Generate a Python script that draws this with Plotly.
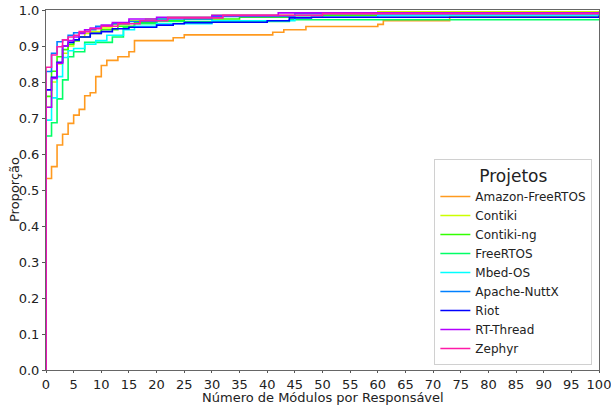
import plotly.graph_objects as go

names = ["Amazon-FreeRTOS", "Contiki", "Contiki-ng", "FreeRTOS", "Mbed-OS",
         "Apache-NuttX", "Riot", "RT-Thread", "Zephyr"]
colors = ["#ff9a1f", "#ccff00", "#33ff00", "#00ff66", "#00ffff",
          "#0080ff", "#0000ff", "#b300ff", "#ff1aa8"]

amazon_x = [0, 1, 2, 3, 4, 5, 6, 7, 8, 9, 10, 11, 13, 15, 16, 23, 25, 41, 43, 47, 60, 61, 73, 100]
amazon_y = [.532, .565, .625, .655, .685, .708, .724, .762, .770, .815, .846, .860, .870, .884, .915, .923, .931, .938, .945, .954, .960, .970, .982, .982]

contiki_x = [0, 1, 2, 3, 4, 5, 6, 7, 8, 10, 12, 15, 18, 22, 30, 45, 60, 100]
contiki_y = [.73, .80, .85, .88, .90, .915, .925, .935, .94, .95, .96, .97, .975, .98, .985, .99, .995, .995]

contiking_x = [0, 1, 2, 3, 4, 5, 6, 8, 10, 13, 16, 20, 25, 35, 50, 100]
contiking_y = [.76, .83, .87, .89, .905, .915, .925, .935, .945, .955, .965, .97, .975, .98, .985, .985]

freertos_x = [0, 1, 2, 3, 4, 5, 7, 12, 14, 16, 20, 44, 100]
freertos_y = [.65, .687, .753, .806, .870, .884, .91, .925, .952, .962, .968, .973, .973]

mbed_x = [0, 1, 2, 3, 4, 5, 7, 9, 11, 14, 16, 20, 30, 45, 60, 100]
mbed_y = [.694, .756, .815, .868, .887, .893, .905, .915, .93, .945, .955, .962, .97, .98, .985, .985]

nuttx_x = [0, 1, 2, 3, 4, 5, 7, 9, 12, 15, 20, 30, 45, 100]
nuttx_y = [.829, .88, .912, .917, .93, .937, .945, .955, .962, .968, .975, .982, .99, .99]

riot_x = [0, 1, 2, 3, 4, 5, 6, 8, 10, 12, 15, 20, 23, 25, 30, 40, 44, 48, 100]
riot_y = [.778, .813, .855, .90, .91, .917, .925, .935, .94, .948, .952, .958, .962, .965, .966, .970, .978, .98, .985]

rtthread_x = [0, 1, 2, 3, 4, 5, 6, 7, 8, 10, 12, 15, 20, 30, 42, 100]
rtthread_y = [.73, .81, .852, .90, .915, .925, .935, .945, .95, .958, .965, .975, .98, .985, .992, .995]

zephyr_x = [0, 1, 2, 3, 4, 5, 6, 8, 10, 13, 17, 22, 32, 50, 100]
zephyr_y = [.841, .875, .898, .917, .925, .93, .94, .948, .955, .962, .97, .978, .985, .99, .99]

series_x = [amazon_x, contiki_x, contiking_x, freertos_x, mbed_x, nuttx_x, riot_x, rtthread_x, zephyr_x]
series_y = [amazon_y, contiki_y, contiking_y, freertos_y, mbed_y, nuttx_y, riot_y, rtthread_y, zephyr_y]

x_ticks = list(range(0, 101, 5))
y_ticks = [i / 10 for i in range(11)]
y_tick_labels = [f"{v:.1f}" for v in y_ticks]

fig = go.Figure()
for name, color, xs, ys in zip(names, colors, series_x, series_y):
    fig.add_trace(go.Scatter(
        x=[xs[0]] + xs, y=[0] + ys, mode="lines", name=name,
        line=dict(color=color, width=1.6, shape="hv"),
    ))

font = "DejaVu Sans"
fig.update_layout(
    width=611, height=406,
    margin=dict(l=46, r=12, t=10, b=36, autoexpand=False),
    paper_bgcolor="white", plot_bgcolor="white",
    font=dict(family=font, size=13, color="#222"),
    showlegend=True,
    legend=dict(
        title=dict(text="Projetos", side="top center", font=dict(size=17, family=font)),
        x=0.988, y=0.014, xanchor="right", yanchor="bottom",
        bgcolor="rgba(255,255,255,0.85)", bordercolor="#d0d0d0", borderwidth=1,
        font=dict(size=12, family=font), tracegroupgap=0, itemwidth=30,
    ),
    xaxis=dict(
        range=[0, 100], tickvals=x_ticks, ticks="outside", ticklen=2,
        tickcolor="#555", showline=True, linecolor="#666", linewidth=1,
        mirror=True, showgrid=False, zeroline=False, automargin=False,
        tickfont=dict(size=13), ticklabeloverflow="allow",
    ),
    yaxis=dict(
        range=[0, 1], tickvals=y_ticks, ticktext=y_tick_labels, ticks="outside",
        ticklen=3, tickcolor="#555", showline=True, linecolor="#666", linewidth=1,
        mirror=True, showgrid=False, zeroline=False, automargin=False,
        tickfont=dict(size=13), ticklabeloverflow="allow",
    ),
    annotations=[
        dict(text="Proporção", textangle=-90, xref="paper", yref="paper",
             x=-32 / 553, y=0.5, xanchor="center", yanchor="middle",
             showarrow=False, font=dict(size=13, family=font, color="#222")),
        dict(text="Número de Módulos por Responsável", xref="paper", yref="paper",
             x=0.5, y=-36 / 360, xanchor="center", yanchor="bottom",
             showarrow=False, borderpad=0, font=dict(size=13, family=font, color="#222")),
    ],
)
fig.write_html("out.html", config={"displayModeBar": False},
               post_script="document.body.style.margin='0';")
